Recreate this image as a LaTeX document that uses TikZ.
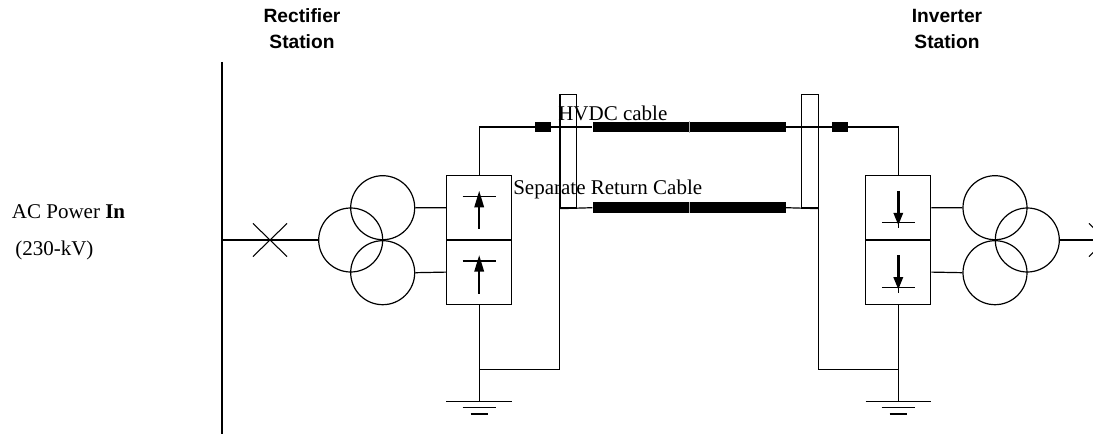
\documentclass[tikz,border=0pt]{standalone}
\usepackage{fontspec}
\setmainfont{Liberation Serif}
\setsansfont{Liberation Sans}
\usetikzlibrary{shapes.misc}

\tikzset{
  wire/.style={line width=0.9pt},
  xfmr/.style={draw,circle,line width=0.9pt,minimum size=48pt,inner sep=0pt},
  valve/.style={draw,rectangle,line width=0.9pt,minimum width=48.75pt,minimum height=48.3pt,inner sep=0pt},
  cable/.style={fill=black,rectangle,minimum width=72.4pt,minimum height=8pt,inner sep=0pt},
  joint/.style={fill=black,rectangle,minimum width=12pt,minimum height=7.5pt,inner sep=0pt},
  sleeve/.style={draw,rectangle,line width=0.9pt,minimum width=12.4pt,minimum height=85.3pt,inner sep=0pt},
  breaker/.style={draw,cross out,line width=0.8pt,minimum width=24.75pt,minimum height=24pt,inner sep=0pt},
  label/.style={font=\fontsize{15.75}{18}\selectfont,inner sep=0pt},
  station/.style={font=\sffamily\bfseries\fontsize{14.4}{19.2}\selectfont,align=center,inner sep=0pt}
}

\begin{document}
\begin{tikzpicture}[x=0.75pt,y=-0.75pt]
	\useasboundingbox (0,0) rectangle (1093,435);
	\clip (0,0) rectangle (1093,435);
	% Labels
	\node[station,anchor=base] (rectlab) at (302,48.3) {Rectifier\\Station};
	\node[station,anchor=base] (invlab) at (947,48.3) {Inverter\\Station};
	\node[label,anchor=base west] (acin) at (11.7,218.3) {AC Power \textbf{In}};
	\node[label,anchor=base west] (kv) at (15,255.5) {(230-kV)};
	\node[label,anchor=base west] (hvlab) at (558,120.7) {HVDC cable};
	\node[label,anchor=base west] (retlab) at (513,195) {Separate Return Cable};
	% AC bus and breakers
	\draw[wire] (222,62) -- (222,434);
	\coordinate (bus) at (222,240);
	\node[breaker] (brL) at (270,240) {};
	\node[breaker] (brR) at (1106,240) {};
	% Transformers
	\node[xfmr] (rt1) at (350.7,240) {};
	\node[xfmr] (rt2) at (382.7,207.7) {};
	\node[xfmr] (rt3) at (382.7,272.7) {};
	\node[xfmr] (it1) at (995,207.7) {};
	\node[xfmr] (it2) at (995,272.7) {};
	\node[xfmr] (it3) at (1027.3,240) {};
	% Valve groups
	\node[valve] (rv1) at (479.2,207.8) {};
	\node[valve] (rv2) at (479.2,272.1) {};
	\node[valve] (iv1) at (898.3,207.8) {};
	\node[valve] (iv2) at (898.3,272.1) {};
	% Cables
	\node[cable] (hv1) at (641,127) {};
	\node[cable] (hv2) at (737.5,127) {};
	\node[cable] (rr1) at (641,207.7) {};
	\node[cable] (rr2) at (737.5,207.7) {};
	\node[sleeve] (slL) at (568.2,151.2) {};
	\node[sleeve] (slR) at (810,151.2) {};
	\coordinate (tieL) at (479.2,369.3);
	\coordinate (tieR) at (898.3,369.3);
	\coordinate (gndL) at (479.2,401.7);
	\coordinate (gndR) at (898.3,401.7);
	% Wiring
	\draw[wire] (bus) -- (rt1.west);
	\draw[wire] (rt2.east) -- (rv1.west);
	\draw[wire] (rt3.east) -- (rv2.west);
	\draw[wire] (iv1.east) -- (it1.west);
	\draw[wire] (iv2.east) -- (it2.west);
	\draw[wire] (it3.east) -- (brR.center);
	\draw[wire] (rv1.north) |- (hv1.west);
	\draw[wire] (hv2.east) -| (iv1.north);
	\draw[wire] (slL.south west) -- (rr1.west);
	\draw[wire] (rr2.east) -- (slR.south east);
	\draw[wire] (slL.south west) |- (tieL);
	\draw[wire] (slR.south east) |- (tieR);
	\draw[wire] (rv2.south) -- (gndL);
	\draw[wire] (iv2.south) -- (gndR);
	\node[joint] (jL) at (543,127) {};
	\node[joint] (jR) at (840.3,127) {};
	\draw[gray!60,line width=0.4pt] (hv1.north east) -- (hv1.south east);
	\draw[gray!60,line width=0.4pt] (rr1.north east) -- (rr1.south east);
	% Grounds
	\foreach \g in {gndL,gndR} {
		\draw[wire] ([xshift=-24.6pt]\g) -- ([xshift=24.6pt]\g);
		\draw[wire] ([xshift=-12.5pt,yshift=-4.3pt]\g) -- ([xshift=12.5pt,yshift=-4.3pt]\g);
		\draw[wire] ([xshift=-6.5pt,yshift=-9.2pt]\g) -- ([xshift=6.5pt,yshift=-9.2pt]\g);}
	% Rectifier valves
	\foreach \v in {rv1,rv2} {
		\begin{scope}[shift={(\v.center)}]
			\draw[wire] (-16.5,-11.1) -- (16.5,-11.1);
			\fill (0,-16.8) -- (-5,-0.5) -- (5,-0.5) -- cycle;
			\draw[line width=1.9pt] (0,-1) -- (0,21.5);
		\end{scope}}
	% Inverter valves
	\foreach \v in {iv1,iv2} {
		\begin{scope}[shift={(\v.center)}]
			\draw[wire] (-16.5,15) -- (16.5,15);
			\draw[wire] (0,15) -- (0,20.5);
			\draw[line width=1.9pt] (0,-17) -- (0,6);
			\fill (-5,5) -- (5,5) -- (0,17.2) -- cycle;
		\end{scope}}
\end{tikzpicture}
\end{document}
